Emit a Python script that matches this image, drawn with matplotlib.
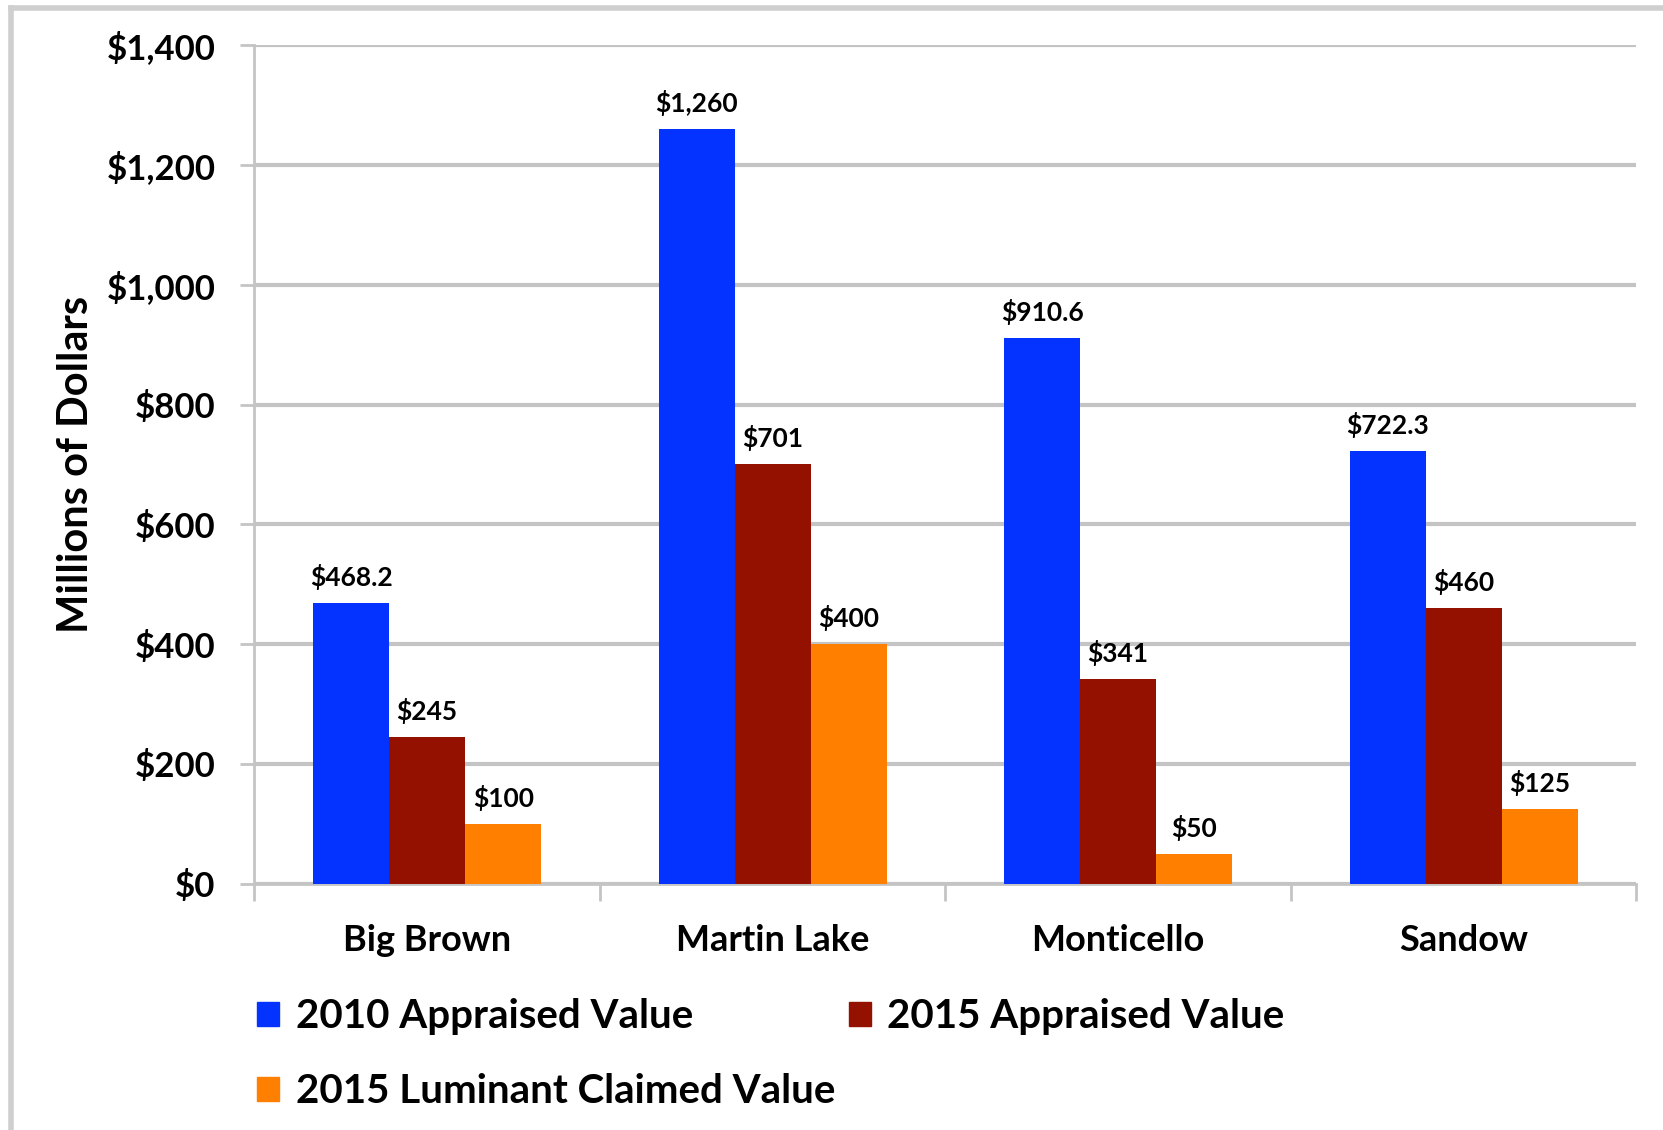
import numpy as np
import matplotlib
matplotlib.use('Agg')
from matplotlib import pyplot as plt
from matplotlib.patches import Patch
from matplotlib.lines import Line2D

plt.rcParams['font.family'] = ['Lato', 'DejaVu Sans']
plt.rcParams['font.weight'] = 'bold'

plants = ['Big Brown', 'Martin Lake', 'Monticello', 'Sandow']
series_names = ['2010 Appraised Value', '2015 Appraised Value', '2015 Luminant Claimed Value']
val_2010 = [468.2, 1260, 910.6, 722.3]
val_2015 = [245, 701, 341, 460]
val_claimed = [100, 400, 50, 125]
labels_2010 = ['$468.2', '$1,260', '$910.6', '$722.3']
labels_2015 = ['$245', '$701', '$341', '$460']
labels_claimed = ['$100', '$400', '$50', '$125']
yticks = [0, 200, 400, 600, 800, 1000, 1200, 1400]
ytick_labels = ['$0', '$200', '$400', '$600', '$800', '$1,000', '$1,200', '$1,400']
colors = ['#0433FF', '#941100', '#FF7F00']

fig = plt.figure(figsize=(16.63, 11.30), dpi=100)
ax = fig.add_axes([0.153, 0.218, 0.831, 0.742])

x = np.arange(len(plants))
w = 0.22
grid_c = '#C4C4C4'
for i, (vals, labs) in enumerate([(val_2010, labels_2010), (val_2015, labels_2015), (val_claimed, labels_claimed)]):
    pos = x + (i - 1) * w
    ax.bar(pos, vals, width=w, color=colors[i], zorder=3)
    for p, v, l in zip(pos, vals, labs):
        ax.text(p, v + 22, l, ha='center', va='bottom', fontsize=19, fontweight='bold')

ax.set_xlim(-0.5, len(plants) - 0.5)
ax.set_ylim(0, 1400)
ax.set_yticks(yticks)
ax.set_yticklabels(ytick_labels, fontsize=25, fontweight='bold')
ax.yaxis.grid(True, color=grid_c, linewidth=3, zorder=0)
ax.set_xticks(x)
ax.set_xticklabels(plants, fontsize=26, fontweight='bold')
ax.tick_params(axis='x', length=0, pad=29)
ax.set_xticks(np.arange(len(plants) + 1) - 0.5, minor=True)
ax.tick_params(axis='x', which='minor', length=12, width=2, color=grid_c)
ax.tick_params(axis='y', length=10, width=2, color=grid_c, pad=18)
for s in ['top', 'right']:
    ax.spines[s].set_visible(False)
for s in ['left', 'bottom']:
    ax.spines[s].set_color(grid_c)
    ax.spines[s].set_linewidth(2)
ax.set_ylabel('Millions of Dollars', fontsize=30, fontweight='bold', labelpad=8)

handles = [Patch(color=c) for c in colors]
order = [0, 2, 1]
fig.legend([handles[k] for k in order], [series_names[k] for k in order],
           loc='upper left', bbox_to_anchor=(0.145, 0.131), ncol=2, frameon=False,
           fontsize=29, handlelength=0.55, handleheight=0.55, handletextpad=0.4,
           columnspacing=0.35, labelspacing=0.95, borderaxespad=0)

# outer frame (left and top edges visible in the original)
fig.add_artist(Line2D([0.0068, 0.0068], [0.0, 0.993], color='#CFCFCF', linewidth=4, transform=fig.transFigure))
fig.add_artist(Line2D([0.0068, 1.0], [0.993, 0.993], color='#CFCFCF', linewidth=4, transform=fig.transFigure))

fig.savefig('out.png', dpi=100, facecolor='white')
